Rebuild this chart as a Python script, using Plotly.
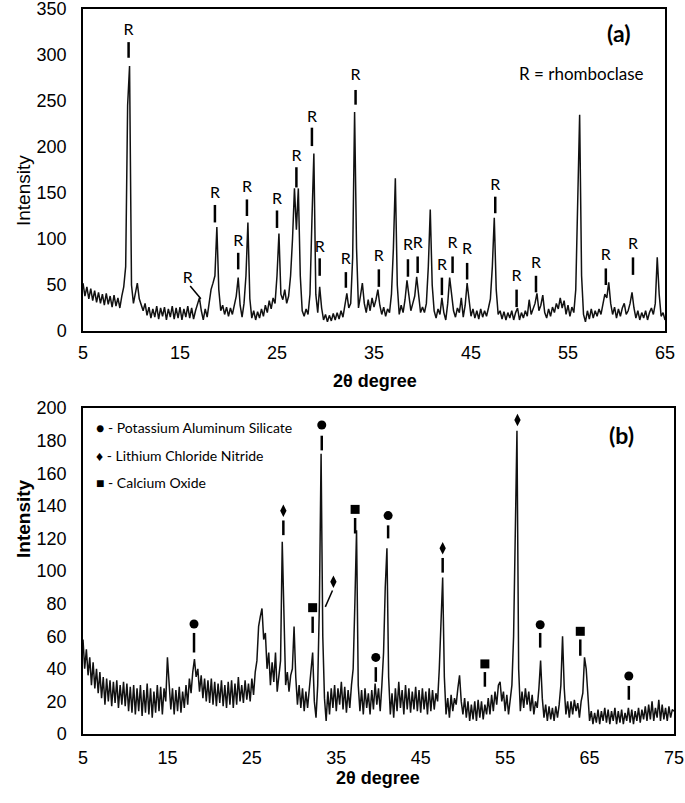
import numpy as np
import plotly.graph_objects as go

# ---------------- Panel (a) data: 2theta from 5.0 to 65.0, step 0.2 ----------------
a_x = np.round(np.arange(5.0, 65.0001, 0.2), 1)
a_y = [
    # 5.0 - 9.8
    52, 38, 48, 35, 46, 33, 44, 31, 42, 30, 40, 28, 41, 29, 38, 26, 39, 27, 36, 25, 38, 48, 70, 245, 288,
    # 10.0 - 14.8
    50, 30, 42, 52, 35, 28, 22, 30, 17, 26, 14, 24, 15, 27, 13, 25, 16, 26, 12, 24, 15, 27, 13, 25, 14,
    # 15.0 - 19.8
    26, 12, 24, 15, 27, 14, 25, 13, 22, 28, 36, 22, 12, 24, 15, 30, 45, 52, 60, 113, 45, 22, 28, 18, 26,
    # 20.0 - 24.8
    16, 25, 18, 30, 38, 58, 28, 15, 30, 60, 118, 35, 14, 22, 12, 21, 14, 24, 16, 28, 20, 33, 24, 36, 30,
    # 25.0 - 29.8
    60, 106, 40, 34, 45, 30, 38, 60, 100, 155, 110, 155, 60, 22, 16, 24, 18, 40, 120, 193, 40, 20, 48, 25, 12,
    # 30.0 - 34.8
    18, 10, 17, 11, 19, 12, 20, 13, 22, 15, 28, 41, 25, 30, 80, 238, 90, 25, 38, 52, 30, 20, 34, 22, 36,
    # 35.0 - 39.8
    26, 34, 45, 28, 18, 26, 16, 24, 20, 40, 90, 166, 50, 18, 28, 20, 34, 55, 40, 22, 30, 38, 59, 35, 20,
    # 40.0 - 44.8
    26, 20, 30, 70, 132, 50, 22, 14, 24, 18, 36, 20, 12, 30, 58, 40, 22, 15, 25, 20, 36, 15, 28, 52, 30,
    # 45.0 - 49.8
    16, 24, 14, 22, 13, 24, 15, 22, 16, 25, 35, 70, 123, 45, 18, 22, 13, 21, 12, 20, 14, 22, 12, 20, 25,
    # 50.0 - 54.8
    12, 20, 14, 22, 16, 34, 18, 24, 30, 41, 22, 28, 39, 20, 14, 24, 16, 26, 20, 30, 24, 36, 25, 33, 18,
    # 55.0 - 59.8
    28, 16, 26, 20, 45, 150, 235, 60, 18, 10, 22, 13, 24, 14, 22, 16, 24, 18, 30, 40, 36, 53, 30, 18, 26,
    # 60.0 - 65.0
    14, 24, 16, 25, 30, 18, 22, 30, 42, 25, 14, 22, 12, 20, 14, 22, 12, 20, 25, 18, 30, 80, 40, 16, 20, 12,
]

# "R" (rhomboclase) labels of panel (a)
r_x = [9.7, 18.6, 21.0, 21.9, 25.0, 27.0, 28.6, 29.4, 32.1, 33.1, 35.5, 38.5, 39.5, 42.0, 43.1, 44.6,
       47.5, 49.7, 51.7, 58.9, 61.7]
r_text_y = [326, 149, 97, 155, 142, 189, 232, 90, 77, 277, 80, 92, 95, 71, 95, 88, 158, 59, 73, 81, 93]
r_bar_lo = [297, 118, 67, 125, 112, 156, 201, 60, 47, 246, 48, 59, 63, 39, 63, 56, 128, 26, 42, 50, 61]
r_bar_hi = [314, 137, 85, 143, 131, 178, 221, 79, 64, 262, 67, 78, 81, 58, 81, 74, 146, 45, 60, 68, 80]
# the slanted one near 17 deg
r_slant_label = (15.8, 57)
r_slant_x = [16.05, 17.15]
r_slant_y = [49, 35]

# ---------------- Panel (b) data: 2theta from 5.0 to 75.0, step 0.2 ----------------
b_x = np.round(np.arange(5.0, 75.0001, 0.2), 1)
b_y = [
    # 5.0 - 9.8
    58, 40, 52, 36, 47, 30, 44, 28, 40, 25, 38, 22, 35, 18, 34, 20, 33, 17, 32, 19, 33, 16, 30, 18, 32,
    # 10.0 - 14.8
    17, 31, 14, 29, 13, 30, 12, 28, 14, 30, 11, 27, 13, 31, 12, 28, 10, 26, 13, 30, 14, 29, 12, 28, 20,
    # 15.0 - 19.8
    47, 30, 15, 28, 12, 27, 14, 29, 13, 26, 16, 30, 18, 34, 25, 38, 46, 35, 40, 26, 36, 22, 34, 20, 33,
    # 20.0 - 24.8
    19, 34, 18, 32, 17, 31, 19, 33, 17, 30, 16, 32, 18, 33, 16, 31, 18, 35, 20, 30, 19, 33, 21, 31, 20,
    # 25.0 - 29.8
    34, 24, 38, 45, 66, 72, 77, 58, 62, 40, 50, 30, 44, 32, 50, 26, 35, 45, 118, 65, 30, 38, 26, 36, 40,
    # 30.0 - 34.8
    66, 35, 18, 30, 16, 28, 14, 26, 16, 28, 40, 50, 20, 10, 30, 80, 172, 60, 22, 8, 26, 12, 28, 16, 30,
    # 35.0 - 39.8
    14, 28, 18, 32, 15, 29, 13, 27, 16, 30, 40, 80, 125, 30, 14, 27, 12, 28, 16, 25, 12, 27, 15, 31, 18,
    # 40.0 - 44.8
    28, 14, 30, 50, 90, 114, 35, 12, 25, 10, 28, 14, 32, 16, 27, 12, 30, 15, 28, 13, 26, 15, 29, 14, 27,
    # 45.0 - 49.8
    13, 28, 15, 26, 12, 28, 14, 27, 15, 25, 20, 40, 70, 96, 35, 12, 22, 10, 24, 14, 22, 18, 28, 36, 20,
    # 50.0 - 54.8
    12, 22, 10, 20, 8, 18, 9, 20, 8, 21, 10, 20, 9, 18, 12, 22, 12, 24, 14, 26, 18, 30, 32, 20, 26,
    # 55.0 - 59.8
    14, 24, 12, 22, 30, 60, 120, 186, 40, 14, 26, 16, 28, 18, 26, 14, 24, 12, 20, 16, 28, 45, 22, 10, 18,
    # 60.0 - 64.8
    8, 17, 9, 16, 8, 17, 10, 18, 30, 60, 28, 12, 20, 10, 20, 12, 21, 14, 19, 10, 20, 25, 47, 40, 22,
    # 65.0 - 69.8
    8, 14, 6, 13, 7, 15, 6, 14, 8, 16, 7, 15, 6, 14, 8, 16, 6, 14, 7, 15, 6, 13, 8, 16, 7,
    # 70.0 - 75.0
    15, 6, 14, 8, 16, 7, 15, 9, 17, 8, 18, 9, 20, 8, 16, 10, 21, 8, 18, 9, 16, 8, 17, 10, 15, 14,
]

# phase markers of panel (b)
mk_x = [18.15, 28.73, 32.2, 33.28, 34.66, 37.23, 39.68, 41.14, 47.6, 52.6, 56.46, 59.15, 63.9, 69.65]
mk_y = [67.5, 137, 77.5, 189.6, 93.4, 137.8, 47, 134, 114, 43, 192.6, 67, 63, 35.6]
mk_phase = ["circle", "diamond", "square", "circle", "diamond", "square", "circle", "circle",
            "diamond", "square", "diamond", "circle", "square", "circle"]
mk_bar_lo = [50, 122, 62, 174, None, 123, 32, 120, 99, 29, None, 53, 48, 21]
mk_bar_hi = [62, 131, 72, 183, None, 132.5, 41, 128, 108, 38, None, 62, 58, 29.5]
mk_slant_x = [33.7, 34.55]
mk_slant_y = [78, 88]

legend_lines = ["\u25cf - Potassium Aluminum Silicate",
                "\u2666 - Lithium Chloride Nitride",
                "\u25a0 - Calcium Oxide"]
legend_y = [188, 171, 154]

a_xticks = [5, 15, 25, 35, 45, 55, 65]
a_yticks = [0, 50, 100, 150, 200, 250, 300, 350]
b_xticks = [5, 15, 25, 35, 45, 55, 65, 75]
b_yticks = list(range(0, 201, 20))

W, H = 685, 803
LBL = "Lato, 'Open Sans', sans-serif"
AX = "'Liberation Sans', Arial, sans-serif"

def bars(xs, lo, hi):
    bx, by = [], []
    for x, l, h in zip(xs, lo, hi):
        if l is None:
            continue
        bx += [x, x, None]
        by += [l, h, None]
    return bx, by

fig = go.Figure()
fig.add_trace(go.Scatter(x=a_x, y=a_y, mode="lines", line=dict(color="#111111", width=1.5),
                         xaxis="x", yaxis="y", showlegend=False, hoverinfo="skip"))
fig.add_trace(go.Scatter(x=b_x, y=b_y, mode="lines", line=dict(color="#111111", width=1.5),
                         xaxis="x2", yaxis="y2", showlegend=False, hoverinfo="skip"))

# R labels
fig.add_trace(go.Scatter(x=r_x + [r_slant_label[0]], y=r_text_y + [r_slant_label[1]], mode="text",
                         text=["R"] * (len(r_x) + 1), textfont=dict(family=LBL, size=16, color="black"),
                         xaxis="x", yaxis="y", showlegend=False, hoverinfo="skip"))
bx, by = bars(r_x, r_bar_lo, r_bar_hi)
fig.add_trace(go.Scatter(x=bx, y=by, mode="lines", line=dict(color="black", width=2.5),
                         xaxis="x", yaxis="y", showlegend=False, hoverinfo="skip"))
fig.add_trace(go.Scatter(x=r_slant_x, y=r_slant_y, mode="lines", line=dict(color="black", width=1.5),
                         xaxis="x", yaxis="y", showlegend=False, hoverinfo="skip"))

# panel (b) markers
sym = {"circle": "circle", "diamond": "diamond-tall", "square": "square"}
fig.add_trace(go.Scatter(x=mk_x, y=mk_y, mode="markers",
                         marker=dict(symbol=[sym[p] for p in mk_phase], size=9, color="black"),
                         xaxis="x2", yaxis="y2", showlegend=False, hoverinfo="skip"))
bx, by = bars(mk_x, mk_bar_lo, mk_bar_hi)
fig.add_trace(go.Scatter(x=bx, y=by, mode="lines", line=dict(color="black", width=2.5),
                         xaxis="x2", yaxis="y2", showlegend=False, hoverinfo="skip"))
fig.add_trace(go.Scatter(x=mk_slant_x, y=mk_slant_y, mode="lines", line=dict(color="black", width=1.5),
                         xaxis="x2", yaxis="y2", showlegend=False, hoverinfo="skip"))

axis_common = dict(showline=True, linecolor="black", linewidth=1.5, mirror=True, showgrid=False,
                   zeroline=False, ticks="", automargin=False, ticklabeloverflow="allow",
                   tickfont=dict(family=AX, size=18, color="black"))

annotations = [
    dict(text="R = rhomboclase", x=56.4, y=280, xref="x", yref="y", showarrow=False,
         font=dict(family=LBL, size=17, color="black")),
    dict(text="<b>(a)</b>", x=60.2, y=324, xref="x", yref="y", showarrow=False,
         font=dict(family=LBL, size=23, color="black")),
    dict(text="<b>(b)</b>", x=636 / W, y=1 - 435 / H, xref="paper", yref="paper",
         showarrow=False, font=dict(family=LBL, size=23, color="black")),
    dict(text="Intensity", x=11 / W, y=1 - 153 / H, xref="paper", yref="paper", showarrow=False,
         textangle=-90, font=dict(family=AX, size=19, color="black")),
    dict(text="<b>Intensity</b>", x=11 / W, y=1 - 560 / H, xref="paper", yref="paper", showarrow=False,
         textangle=-90, font=dict(family=AX, size=19, color="black")),
    dict(text="<b>2θ degree</b>", x=375 / W, y=1 - 381 / H, xref="paper", yref="paper", showarrow=False,
         font=dict(family=AX, size=18, color="black")),
    dict(text="<b>2θ degree</b>", x=378 / W, y=1 - 790 / H, xref="paper", yref="paper", showarrow=False,
         font=dict(family=AX, size=18, color="black")),
]
for t, yy in zip(legend_lines, legend_y):
    annotations.append(dict(text=t, x=6.3, y=yy, xref="x2", yref="y2", xanchor="left", showarrow=False,
                            font=dict(family=LBL, size=14, color="black")))

fig.update_layout(
    width=W, height=H, margin=dict(l=0, r=0, t=0, b=0, autoexpand=False),
    paper_bgcolor="white", plot_bgcolor="white",
    xaxis=dict(domain=[83 / W, 665 / W], range=[5, 65], tickvals=a_xticks, anchor="y",
               ticklabelstandoff=5, **axis_common),
    yaxis=dict(domain=[1 - 331 / H, 1 - 9 / H], range=[0, 350], tickvals=a_yticks, anchor="x",
               ticklabelstandoff=11, **axis_common),
    xaxis2=dict(domain=[83 / W, 674 / W], range=[5, 75], tickvals=b_xticks, anchor="y2",
                ticklabelstandoff=7, **axis_common),
    yaxis2=dict(domain=[1 - 734 / H, 1 - 408 / H], range=[0, 200], tickvals=b_yticks, anchor="x2",
                ticklabelstandoff=11, **axis_common),
    annotations=annotations,
)

fig.write_html("out.html", config={"displayModeBar": False},
               post_script="document.body.style.margin='0';document.body.style.overflow='hidden';")
